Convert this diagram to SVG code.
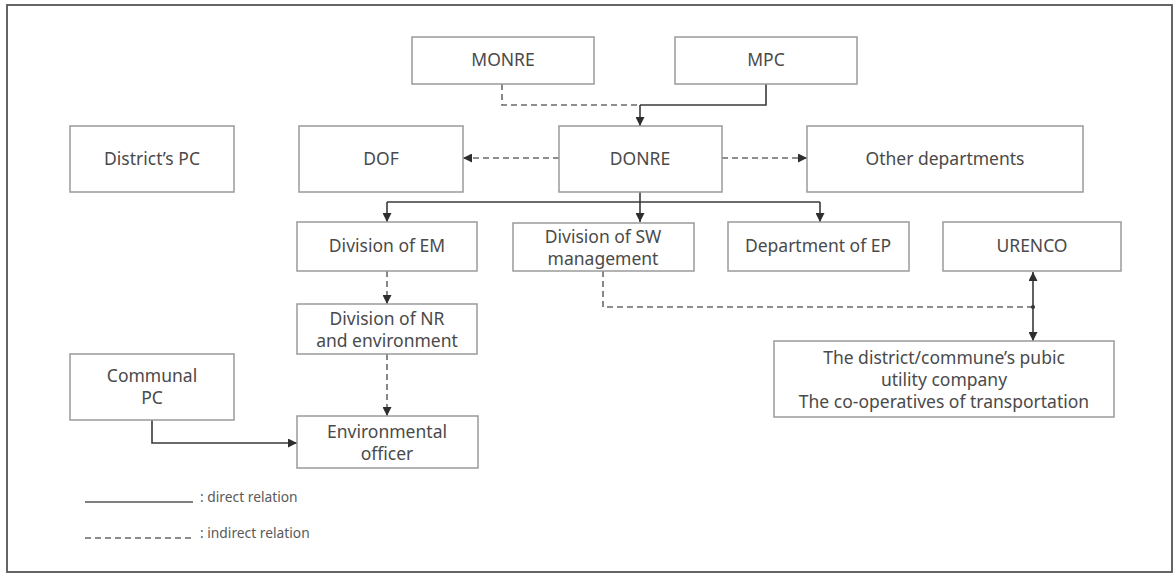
<svg xmlns="http://www.w3.org/2000/svg" width="1175" height="574" viewBox="0 0 1175 574">
<style>
  .box{fill:#fff;stroke:#9a9a9a;stroke-width:1.5}
  .t{font-family:"Noto Sans","Liberation Sans",sans-serif;font-size:17.5px;fill:#4a4a4a;text-anchor:middle}
  .lg{font-family:"Noto Sans","Liberation Sans",sans-serif;font-size:13.8px;fill:#5a5a5a}
  .solid{fill:none;stroke:#3a3a3a;stroke-width:1.6}
  .dash{fill:none;stroke:#6a6a6a;stroke-width:1.6;stroke-dasharray:6 4}
</style>
<defs>
  <marker id="ah" viewBox="0 0 10 10" refX="10" refY="5" markerWidth="9" markerHeight="9" markerUnits="userSpaceOnUse" orient="auto-start-reverse">
    <path d="M0,0 L10,5 L0,10 z" fill="#2e2e2e"/>
  </marker>
</defs>
<rect x="0" y="0" width="1175" height="574" fill="#fff"/>
<rect x="7" y="5" width="1165" height="567" fill="none" stroke="#555" stroke-width="1.8"/>

<g id="connectors">
  <path class="dash" d="M502,84 V105 H640"/>
  <path class="solid" d="M766,84 V105 H640"/>
  <path class="solid" d="M640,105 V126" marker-end="url(#ah)"/>
  <path class="dash" d="M559,158 H463" marker-end="url(#ah)"/>
  <path class="dash" d="M722,158 H807" marker-end="url(#ah)"/>
  <path class="solid" d="M640,192 V202"/>
  <path class="solid" d="M387,202 H820"/>
  <path class="solid" d="M387,202 V222" marker-end="url(#ah)"/>
  <path class="solid" d="M640,202 V222" marker-end="url(#ah)"/>
  <path class="solid" d="M820,202 V222" marker-end="url(#ah)"/>
  <path class="dash" d="M387,271 V304" marker-end="url(#ah)"/>
  <path class="dash" d="M387,354 V416" marker-end="url(#ah)"/>
  <path class="solid" d="M152,420 V443 H297" marker-end="url(#ah)"/>
  <path class="dash" d="M603,271 V307 H1033"/>
  <circle cx="1033" cy="307" r="2" fill="#2e2e2e"/>
  <path class="solid" d="M1033,272 V341" marker-start="url(#ah)" marker-end="url(#ah)"/>
</g>

<g id="monre"><rect class="box" x="412" y="37" width="182" height="47"/><text class="t" x="503" y="66">MONRE</text></g>
<g id="mpc"><rect class="box" x="675" y="37" width="182" height="47"/><text class="t" x="766" y="66">MPC</text></g>
<g id="districts-pc"><rect class="box" x="70" y="126" width="164" height="66"/><text class="t" x="152" y="165">District’s PC</text></g>
<g id="dof"><rect class="box" x="299" y="126" width="164" height="66"/><text class="t" x="381" y="165">DOF</text></g>
<g id="donre"><rect class="box" x="559" y="126" width="163" height="66"/><text class="t" x="640" y="165">DONRE</text></g>
<g id="other-departments"><rect class="box" x="807" y="126" width="276" height="66"/><text class="t" x="945" y="165">Other departments</text></g>
<g id="division-em"><rect class="box" x="297" y="222" width="180" height="49"/><text class="t" x="387" y="252">Division of EM</text></g>
<g id="division-sw"><rect class="box" x="513" y="223" width="181" height="48"/><text class="t" x="603" y="243">Division of SW</text><text class="t" x="603" y="265">management</text></g>
<g id="department-ep"><rect class="box" x="728" y="222" width="181" height="49"/><text class="t" x="818" y="252">Department of EP</text></g>
<g id="urenco"><rect class="box" x="943" y="222" width="178" height="49"/><text class="t" x="1032" y="252">URENCO</text></g>
<g id="division-nr"><rect class="box" x="297" y="304" width="180" height="50"/><text class="t" x="387" y="325">Division of NR</text><text class="t" x="387" y="347">and environment</text></g>
<g id="public-utility"><rect class="box" x="774" y="341" width="340" height="76"/><text class="t" x="944" y="364">The district/commune’s pubic</text><text class="t" x="944" y="386">utility company</text><text class="t" x="944" y="408">The co-operatives of transportation</text></g>
<g id="communal-pc"><rect class="box" x="70" y="354" width="164" height="66"/><text class="t" x="152" y="382">Communal</text><text class="t" x="152" y="404">PC</text></g>
<g id="environmental-officer"><rect class="box" x="297" y="416" width="181" height="52"/><text class="t" x="387" y="438">Environmental</text><text class="t" x="387" y="460">officer</text></g>

<g id="legend">
  <line x1="85" y1="502" x2="193" y2="502" stroke="#555" stroke-width="1.6"/>
  <text class="lg" x="200" y="502">: direct relation</text>
  <line x1="85" y1="538" x2="193" y2="538" stroke="#666" stroke-width="1.6" stroke-dasharray="6 4"/>
  <text class="lg" x="200" y="538">: indirect relation</text>
</g>
</svg>
